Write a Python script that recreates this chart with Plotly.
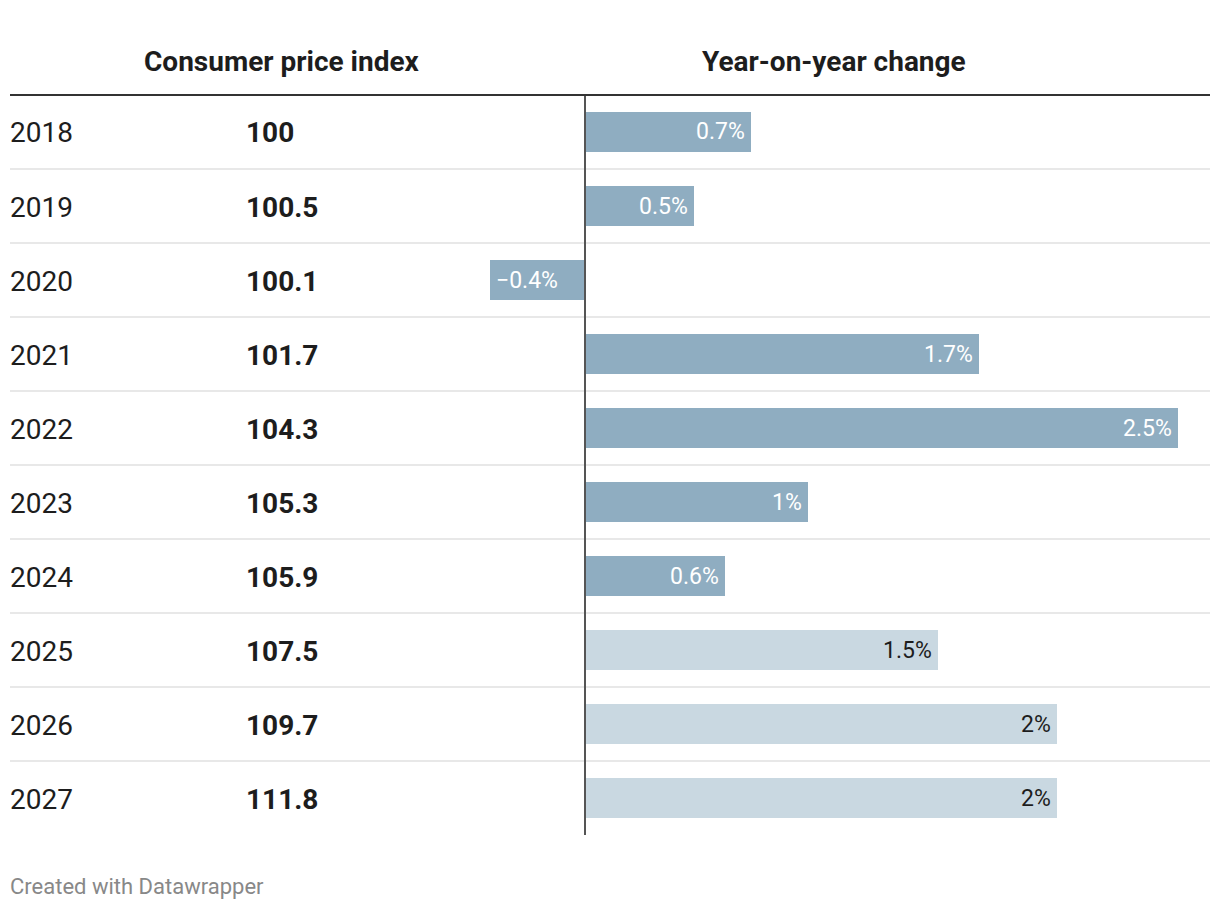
import plotly.graph_objects as go

years = ["2018", "2019", "2020", "2021", "2022", "2023", "2024", "2025", "2026", "2027"]
cpi = ["100", "100.5", "100.1", "101.7", "104.3", "105.3", "105.9", "107.5", "109.7", "111.8"]
yoy = [0.70, 0.46, -0.40, 1.66, 2.50, 0.94, 0.59, 1.49, 1.99, 1.99]
yoy_labels = ["0.7%", "0.5%", "\u22120.4%", "1.7%", "2.5%", "1%", "0.6%", "1.5%", "2%", "2%"]
forecast = [False, False, False, False, False, False, False, True, True, True]

# the page body has an 8px margin; the figure is drawn in the remaining area
OFF = 8
W, H = 1220 - OFF, 910 - OFF
FONT = "Roboto"
DARK = "#8fadc1"
LIGHT = "#c9d8e1"


def py(px):
    return 1 - (px - OFF) / H


def pxx(px):
    return (px - OFF) / W


colors = [LIGHT if f else DARK for f in forecast]
n = len(years)

fig = go.Figure()
fig.add_trace(go.Bar(
    x=yoy, y=years, orientation="h",
    marker=dict(color=colors, line=dict(width=0)),
    width=40 / 74, hoverinfo="skip",
))

annotations = []
annotations.append(dict(x=pxx(282), y=py(62), xref="paper", yref="paper", text="Consumer price index",
                        showarrow=False, xanchor="center", yanchor="middle",
                        font=dict(family=FONT, size=28, color="#1d1d1d", weight=700)))
annotations.append(dict(x=pxx(834), y=py(62), xref="paper", yref="paper", text="Year-on-year change",
                        showarrow=False, xanchor="center", yanchor="middle",
                        font=dict(family=FONT, size=28, color="#1d1d1d", weight=700)))
for i, (yr, c, v, lab, f) in enumerate(zip(years, cpi, yoy, yoy_labels, forecast)):
    annotations.append(dict(x=pxx(8), y=i, xref="paper", yref="y", text=yr, showarrow=False,
                            xanchor="left", yanchor="middle", yshift=-1,
                            font=dict(family=FONT, size=28, color="#1d1d1d")))
    annotations.append(dict(x=pxx(244), y=i, xref="paper", yref="y", text=c, showarrow=False,
                            xanchor="left", yanchor="middle", yshift=-1,
                            font=dict(family=FONT, size=28, color="#1d1d1d", weight=700)))
    annotations.append(dict(x=v, y=i, xref="x", yref="y", text=lab, showarrow=False,
                            xanchor="right" if v >= 0 else "left",
                            xshift=-4 if v >= 0 else 4, yanchor="middle",
                            font=dict(family=FONT, size=23, color="#1d1d1d" if f else "#ffffff")))
annotations.append(dict(x=pxx(8), y=py(886), xref="paper", yref="paper", text="Created with Datawrapper",
                        showarrow=False, xanchor="left", yanchor="middle",
                        font=dict(family=FONT, size=22, color="#888888")))

shapes = []
shapes.append(dict(type="line", xref="paper", yref="paper", x0=pxx(10), x1=pxx(1210),
                   y0=py(95), y1=py(95), line=dict(color="#333333", width=2)))
for i in range(n - 1):
    shapes.append(dict(type="line", xref="paper", yref="y", x0=pxx(10), x1=pxx(1210),
                       y0=i + 0.5, y1=i + 0.5, line=dict(color="#e8e8e8", width=2), layer="below"))
shapes.append(dict(type="line", xref="x", yref="paper", x0=0, x1=0, y0=py(835), y1=py(96),
                   line=dict(color="#555555", width=2)))

scale = 237.2
x0px, x1px, zpx = 480, 1210, 585
fig.update_layout(
    width=W, height=H,
    margin=dict(l=0, r=0, t=0, b=0),
    paper_bgcolor="white", plot_bgcolor="rgba(0,0,0,0)",
    showlegend=False,
    xaxis=dict(domain=[pxx(x0px), pxx(x1px)],
               range=[-(zpx - x0px) / scale, (x1px - zpx) / scale],
               visible=False, fixedrange=True),
    yaxis=dict(domain=[py(835), py(95)], range=[n - 0.5, -0.5], visible=False,
               type="category", categoryorder="array", categoryarray=years, fixedrange=True),
    annotations=annotations, shapes=shapes,
    bargap=0,
)

fig.write_html("out.html")
